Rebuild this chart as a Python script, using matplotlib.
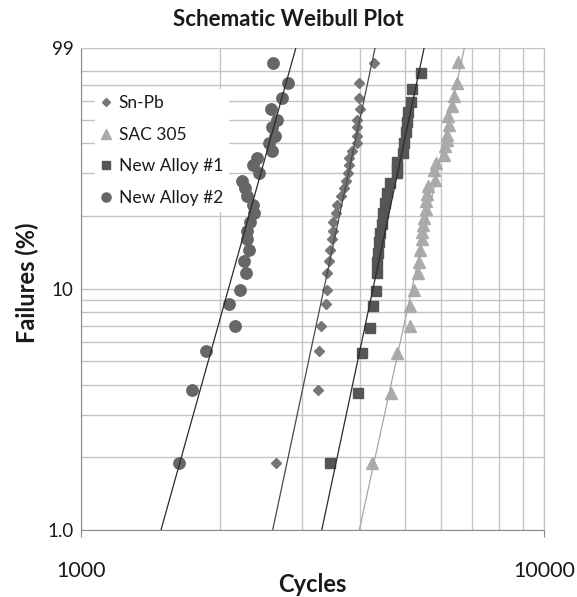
import matplotlib
matplotlib.use('Agg')
import matplotlib.pyplot as plt
from matplotlib.ticker import FixedLocator, NullFormatter

plt.rcParams['font.family'] = ['Lato', 'DejaVu Sans']

# median-rank failure percentages (shared by Sn-Pb and New Alloy #2)
rank_pct = [1.9, 3.8, 5.5, 7.0, 8.6, 9.9, 11.6, 13.0, 14.5, 16.0, 17.4, 18.9, 20.5, 22.3,
            24.2, 26.1, 27.9, 30.0, 32.5, 34.8, 37.3, 40.0, 43.0, 46.6, 49.9, 55.5,
            61.4, 70.9, 86.0]

snpb_cycles = [2634, 3254, 3266, 3294, 3387, 3403, 3403, 3432, 3449, 3478, 3506, 3506, 3548,
               3577, 3638, 3704, 3735, 3763, 3782, 3800, 3842, 3945, 3951, 3951, 3951, 4005,
               3990, 3990, 4298]

alloy2_cycles = [1627, 1739, 1863, 2152, 2086, 2206, 2273, 2250, 2310, 2280, 2280, 2318, 2365,
                 2357, 2287, 2262, 2225, 2428, 2357, 2404, 2590, 2552, 2625, 2582, 2647, 2570,
                 2714, 2796, 2603]

alloy1_cycles = [3449, 3958, 4037, 4207, 4264, 4335, 4350, 4350, 4385, 4406, 4421, 4459, 4481,
                 4533, 4585, 4648, 4805, 4805, 4805, 4950, 4982, 5032, 5064, 5089, 5150, 5192,
                 5413]
alloy1_pct = [1.9, 3.7, 5.4, 6.9, 8.5, 9.8, 11.6, 12.9, 14.0, 15.6, 17.0, 18.6, 20.5, 22.6,
              24.8, 27.3, 30.0, 31.5, 33.6, 36.4, 40.0, 44.7, 49.1, 54.1, 59.1, 66.9, 78.4]

sac_cycles = [4256, 4671, 4805, 5132, 5132, 5248, 5348, 5359, 5394, 5440, 5440, 5483, 5511,
              5549, 5557, 5576, 5621, 5810, 5782, 5831, 6077, 6107, 6177, 6159, 6239, 6208,
              6314, 6386, 6493, 6525]
sac_pct = [1.9, 3.7, 5.4, 7.0, 8.5, 9.9, 11.6, 12.9, 14.4, 16.0, 17.2, 18.4, 19.7, 21.4,
           23.0, 24.7, 26.5, 28.3, 31.1, 33.1, 35.9, 38.9, 41.4, 43.4, 47.5, 51.7, 56.9,
           62.6, 71.1, 86.6]

# fitted Weibull lines: cycles at 1 % and at 99 % failures
fit_pct = [1.0, 99.0]
fit_snpb = [2595, 4313]
fit_sac = [3990, 6722]
fit_alloy1 = [3311, 5503]
fit_alloy2 = [1490, 2910]

W, H = 577, 597
fig = plt.figure(figsize=(W / 100, H / 100), dpi=100)
ax = fig.add_axes([80.7 / W, 1 - 530 / H, (544.3 - 80.7) / W, (530 - 48.3) / H])

ax.set_xscale('log')
ax.set_yscale('log')
ax.set_xlim(1000, 10000)
ax.set_ylim(1, 99)

# grid
ax.xaxis.set_major_locator(FixedLocator([1000, 10000]))
ax.xaxis.set_minor_locator(FixedLocator([2000, 3000, 4000, 5000, 6000, 7000, 8000, 9000]))
ax.yaxis.set_major_locator(FixedLocator([1, 10, 99]))
ax.yaxis.set_minor_locator(FixedLocator([2, 3, 4, 5, 6, 7, 8, 9, 20, 30, 40, 50, 60, 70, 80]))
ax.xaxis.set_minor_formatter(NullFormatter())
ax.yaxis.set_minor_formatter(NullFormatter())
ax.set_xticklabels(['1000', '10000'])
ax.set_yticklabels(['1.0', '10', '99'])
ax.grid(True, which='both', color='#c4c4c4', lw=1.0)
ax.set_axisbelow(True)
ax.tick_params(which='minor', length=0)
ax.tick_params(axis='x', which='major', length=5, color='#888888', pad=17,
               labelsize=15.5, labelcolor='#1a1a1a')
ax.tick_params(axis='y', which='major', length=0, pad=5, labelsize=13.5,
               labelcolor='#1a1a1a')
for side in ['left', 'bottom']:
    ax.spines[side].set_color('#8c8c8c')
for side in ['top', 'right']:
    ax.spines[side].set_color('#c4c4c4')

# data points
h1, = ax.plot(snpb_cycles, rank_pct, ls='none', marker='D', ms=5.2, color='#767676',
              mec='#767676', label='Sn-Pb')
h2, = ax.plot(sac_cycles, sac_pct, ls='none', marker='^', ms=8.5, color='#ababab',
              mec='#ababab', label='SAC 305')
h3, = ax.plot(alloy1_cycles, alloy1_pct, ls='none', marker='s', ms=7.3, color='#555555',
              mec='#555555', label='New Alloy #1')
h4, = ax.plot(alloy2_cycles, rank_pct, ls='none', marker='o', ms=8.2, color='#666666',
              mec='#666666', label='New Alloy #2')

# fitted lines
ax.plot(fit_snpb, fit_pct, color='#4a4a4a', lw=0.9, zorder=3)
ax.plot(fit_sac, fit_pct, color='#a6a6a6', lw=0.9, zorder=3)
ax.plot(fit_alloy1, fit_pct, color='#2a2a2a', lw=0.9, zorder=3)
ax.plot(fit_alloy2, fit_pct, color='#2a2a2a', lw=0.9, zorder=3)

leg = ax.legend(handles=[h1, h2, h3, h4], loc='upper left',
                bbox_to_anchor=(0.031, 0.915), fontsize=12.5, frameon=True,
                fancybox=False, framealpha=1, facecolor='white', edgecolor='none',
                handlelength=0.6, handletextpad=0.4, labelspacing=0.89,
                borderpad=0.35, markerscale=0.8, borderaxespad=0)
leg.set_zorder(10)
for t in leg.get_texts():
    t.set_color('#1a1a1a')

fig.text(288.5 / W, 1 - 20 / H, 'Schematic Weibull Plot', ha='center', va='center',
         fontsize=16, fontweight='bold', color='#1a1a1a')
fig.text(312 / W, 1 - 585 / H, 'Cycles', ha='center', va='center',
         fontsize=17, fontweight='bold', color='#1a1a1a')
fig.text(27 / W, 1 - 283 / H, 'Failures (%)', ha='center', va='center', rotation=90,
         fontsize=17, fontweight='bold', color='#1a1a1a')

fig.savefig('out.png', dpi=100, facecolor='white')
